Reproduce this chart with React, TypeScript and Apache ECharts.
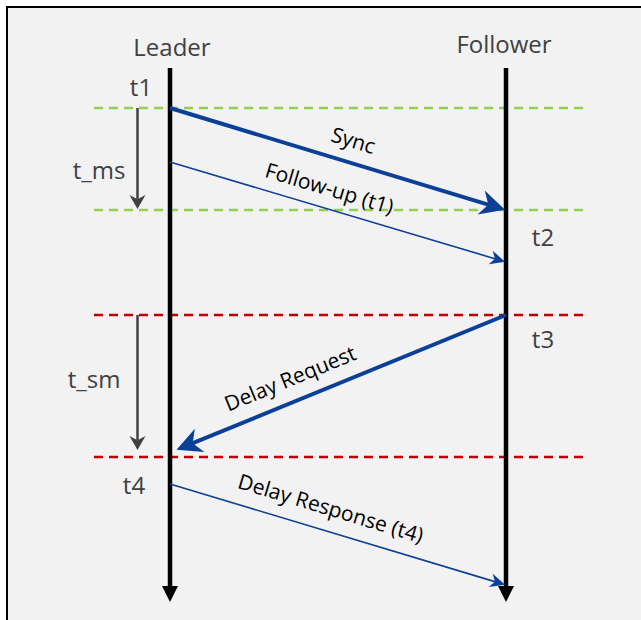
import React, { useEffect, useRef } from 'react';
import * as echarts from 'echarts';

const WIDTH = 641;
const HEIGHT = 620;

// ---- lanes (x position on the diagram axis, time runs downward) ----
const laneNames = ['Leader', 'Follower'];
const laneX = [170, 506];
const laneStart = 68;
const laneEnd = 602;

// ---- reference event lines (time values) ----
const eventTimes = [108, 210, 315, 457];
const eventGroup = [0, 0, 1, 1]; // 0 = sync window (green), 1 = delay window (red)
const eventSpan = [94, 583];

// ---- messages ----
const msgNames = ['Sync', 'Follow-up (t1)', 'Delay Request', 'Delay Response (t4)'];
const msgFromLane = [0, 0, 1, 0];
const msgToLane = [1, 1, 0, 1];
const msgSendTime = [108, 162, 315, 484];
const msgRecvTime = [210, 262, 452.5, 585];
const msgBold = [1, 0, 1, 0];

// ---- timestamps ----
const stampNames = ['t1', 't2', 't3', 't4'];
const stampLane = [0, 1, 1, 0];
const stampTime = [108, 210, 315, 457];

// ---- measured intervals ----
const intervalNames = ['t_ms', 't_sm'];
const intervalFrom = [108, 315];
const intervalTo = [209, 450];

// ---- layout / style (not data) ----
const headerPos = [[172, 46], [504, 43]];
const stampOffset = [[-29, -22], [37, 26], [37, 23], [-36, 27]];
const msgTipInset = [1, 1, 7, 1];
const msgLabelT = [0.528, 0.459, 0.6285, 0.46];
const msgLabelD = [22.8, 20.7, 23.5, 23.5];
const intervalX = 137.5;
const intervalLabelPos = [[99, 169], [94, 378]];
const eventColors = ['#92d050', '#c00000'];
const msgColor = '#0b3f98';
const grayText = '#404040';
const FONT = '"Open Sans", "Noto Sans", sans-serif';
const GRAY_SIZE = 24;
const MSG_SIZE = 21;

function arrowHead(tip: number[], ux: number, uy: number, L: number, H: number, notch: number) {
  const bx = tip[0] - ux * L;
  const by = tip[1] - uy * L;
  const px = -uy;
  const py = ux;
  return [
    [tip[0], tip[1]],
    [bx + px * H, by + py * H],
    [tip[0] - ux * L * notch, tip[1] - uy * L * notch],
    [bx - px * H, by - py * H],
  ];
}

export default function App() {
  const ref = useRef<HTMLDivElement>(null);

  useEffect(() => {
    document.body.style.margin = '0';
    if (!ref.current) return;
    const chart = echarts.init(ref.current, undefined, { renderer: 'svg' });

    const option: any = {
      animation: false,
      backgroundColor: '#ffffff',
      grid: { left: 0, right: 0, top: 0, bottom: 0 },
      xAxis: { type: 'value', min: 0, max: WIDTH, show: false },
      yAxis: { type: 'value', min: 0, max: HEIGHT, inverse: true, show: false },
      graphic: [
        {
          type: 'rect',
          z: 0,
          shape: { x: 7, y: 7, width: 700, height: 700 },
          style: { fill: '#f2f2f2', stroke: '#000000', lineWidth: 2 },
          silent: true,
        },
      ],
      series: [
        // dashed event lines
        {
          type: 'custom',
          silent: true,
          z: 2,
          coordinateSystem: 'cartesian2d',
          data: eventTimes.map((t, i) => [t, eventGroup[i]]),
          renderItem: (params: any, api: any) => {
            const t = api.value(0);
            const g = api.value(1);
            const a = api.coord([eventSpan[0], t]);
            const b = api.coord([eventSpan[1], t]);
            return {
              type: 'line',
              shape: { x1: a[0], y1: a[1], x2: b[0], y2: b[1] },
              style: { stroke: eventColors[g], lineWidth: 2.5, lineDash: [9, 6] },
            };
          },
        },
        // lanes
        {
          type: 'custom',
          silent: true,
          z: 3,
          coordinateSystem: 'cartesian2d',
          data: laneNames.map((_, i) => [laneX[i], laneStart, laneEnd]),
          renderItem: (params: any, api: any) => {
            const i = params.dataIndex;
            const top = api.coord([api.value(0), api.value(1)]);
            const bot = api.coord([api.value(0), api.value(2)]);
            const head = 16;
            const half = 8;
            const hp = api.coord(headerPos[i]);
            return {
              type: 'group',
              children: [
                {
                  type: 'line',
                  shape: { x1: top[0], y1: top[1], x2: bot[0], y2: bot[1] - head + 2 },
                  style: { stroke: '#000000', lineWidth: 4.5 },
                },
                {
                  type: 'polygon',
                  shape: { points: [[bot[0], bot[1]], [bot[0] - half, bot[1] - head], [bot[0] + half, bot[1] - head]] },
                  style: { fill: '#000000' },
                },
                {
                  type: 'text',
                  x: hp[0],
                  y: hp[1],
                  style: {
                    text: laneNames[i],
                    fill: grayText,
                    fontSize: GRAY_SIZE,
                    fontFamily: FONT,
                    align: 'center',
                    verticalAlign: 'middle',
                  },
                },
              ],
            };
          },
        },
        // measured intervals
        {
          type: 'custom',
          silent: true,
          z: 4,
          coordinateSystem: 'cartesian2d',
          data: intervalNames.map((_, i) => [intervalFrom[i], intervalTo[i]]),
          renderItem: (params: any, api: any) => {
            const i = params.dataIndex;
            const a = api.coord([intervalX, api.value(0)]);
            const b = api.coord([intervalX, api.value(1)]);
            const pts = arrowHead(b, 0, 1, 14, 8, 0.7);
            const lp = api.coord(intervalLabelPos[i]);
            return {
              type: 'group',
              children: [
                {
                  type: 'line',
                  shape: { x1: a[0], y1: a[1], x2: b[0], y2: b[1] - 10 },
                  style: { stroke: grayText, lineWidth: 2.5 },
                },
                { type: 'polygon', shape: { points: pts }, style: { fill: grayText } },
                {
                  type: 'text',
                  x: lp[0],
                  y: lp[1],
                  style: {
                    text: intervalNames[i],
                    fill: grayText,
                    fontSize: GRAY_SIZE,
                    fontFamily: FONT,
                    align: 'center',
                    verticalAlign: 'middle',
                  },
                },
              ],
            };
          },
        },
        // messages
        {
          type: 'custom',
          silent: true,
          z: 5,
          coordinateSystem: 'cartesian2d',
          data: msgNames.map((_, i) => [
            laneX[msgFromLane[i]],
            msgSendTime[i],
            laneX[msgToLane[i]],
            msgRecvTime[i],
          ]),
          renderItem: (params: any, api: any) => {
            const i = params.dataIndex;
            const p1 = api.coord([api.value(0), api.value(1)]);
            const p2 = api.coord([api.value(2), api.value(3)]);
            const dx = p2[0] - p1[0];
            const dy = p2[1] - p1[1];
            const len = Math.hypot(dx, dy);
            const ux = dx / len;
            const uy = dy / len;
            const tip = [p2[0] - ux * msgTipInset[i], p2[1] - uy * msgTipInset[i]];
            const bold = msgBold[i] === 1;
            const L = bold ? 25 : 15;
            const H = bold ? 12.5 : 7;
            const pts = arrowHead(tip, ux, uy, L, H, 0.7);
            const endL = L * 0.6;
            // label
            let nx = -uy;
            let ny = ux;
            if (ny > 0) {
              nx = -nx;
              ny = -ny;
            }
            const lenTip = Math.hypot(tip[0] - p1[0], tip[1] - p1[1]);
            const t = msgLabelT[i];
            const lx = p1[0] + ux * lenTip * t + nx * msgLabelD[i];
            const ly = p1[1] + uy * lenTip * t + ny * msgLabelD[i];
            let rx = ux;
            let ry = uy;
            if (rx < 0) {
              rx = -rx;
              ry = -ry;
            }
            const rot = -Math.atan2(ry, rx);
            return {
              type: 'group',
              children: [
                {
                  type: 'line',
                  shape: { x1: p1[0], y1: p1[1], x2: tip[0] - ux * endL, y2: tip[1] - uy * endL },
                  style: { stroke: msgColor, lineWidth: bold ? 4 : 1.6 },
                },
                { type: 'polygon', shape: { points: pts }, style: { fill: msgColor } },
                {
                  type: 'text',
                  x: lx,
                  y: ly,
                  rotation: rot,
                  style: {
                    text: msgNames[i],
                    fill: '#000000',
                    fontSize: MSG_SIZE,
                    fontFamily: FONT,
                    align: 'center',
                    verticalAlign: 'middle',
                  },
                },
              ],
            };
          },
        },
        // timestamps
        {
          type: 'custom',
          silent: true,
          z: 6,
          coordinateSystem: 'cartesian2d',
          data: stampNames.map((_, i) => [laneX[stampLane[i]], stampTime[i]]),
          renderItem: (params: any, api: any) => {
            const i = params.dataIndex;
            const p = api.coord([api.value(0), api.value(1)]);
            return {
              type: 'text',
              x: p[0] + stampOffset[i][0],
              y: p[1] + stampOffset[i][1],
              style: {
                text: stampNames[i],
                fill: grayText,
                fontSize: GRAY_SIZE,
                fontFamily: FONT,
                align: 'center',
                verticalAlign: 'middle',
              },
            };
          },
        },
      ],
    };

    chart.setOption(option);
    return () => {
      chart.dispose();
    };
  }, []);

  return <div ref={ref} style={{ width: WIDTH, height: HEIGHT, overflow: 'hidden' }} />;
}
